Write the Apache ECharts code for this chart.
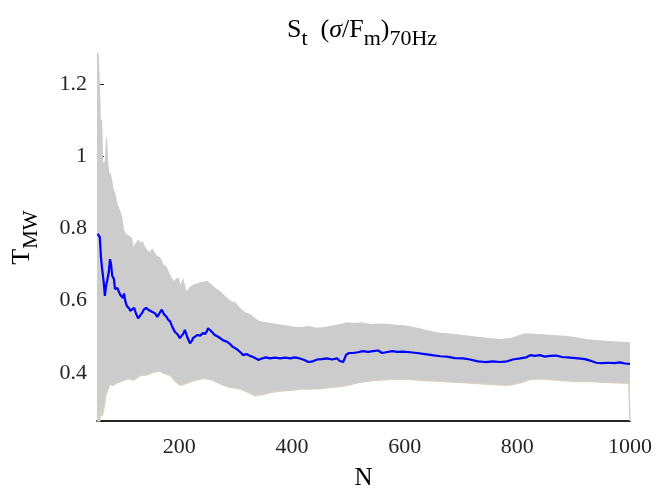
<!DOCTYPE html>
<html>
<head>
<meta charset="utf-8">
<script src="https://cdn.jsdelivr.net/npm/echarts@6/dist/echarts.min.js"></script>
<style>html,body{margin:0;padding:0;background:#fff}#c{width:657px;height:488px}</style>
</head>
<body>
<div id="c"></div>
<script>
// Mean curve (N, T_MW)
const meanN = [55,56,59,61,63,65,66,68,70,72,74,75,77,79,81,84,86,90,93,95,98,100,102,104,107,111,113,116,120,123,127,130,134,137,141,145,148,153,157,161,162,166,169,173,177,180,184,187,192,198,201,207,210,214,219,223,224,228,232,237,242,246,249,251,255,258,263,269,272,278,285,290,295,301,304,310,313,319,326,331,336,340,347,354,361,370,379,388,397,405,414,423,429,432,437,445,453,462,471,480,485,491,496,501,508,517,526,535,544,553,560,567,578,587,597,610,622,636,649,663,675,689,704,716,730,743,757,769,782,792,805,816,823,831,840,849,858,869,879,894,908,920,929,940,950,961,972,982,991,1000];
const meanV = [0.785,0.785,0.776,0.72,0.69,0.695,0.65,0.613,0.64,0.655,0.65,0.68,0.715,0.70,0.669,0.66,0.632,0.635,0.63,0.617,0.613,0.607,0.62,0.60,0.585,0.578,0.572,0.575,0.58,0.565,0.551,0.556,0.566,0.575,0.58,0.575,0.57,0.568,0.565,0.555,0.551,0.568,0.575,0.562,0.556,0.548,0.542,0.53,0.514,0.505,0.496,0.508,0.519,0.50,0.482,0.49,0.496,0.50,0.505,0.503,0.51,0.508,0.515,0.523,0.518,0.522,0.505,0.50,0.496,0.49,0.486,0.48,0.472,0.467,0.463,0.455,0.449,0.452,0.447,0.444,0.44,0.436,0.44,0.443,0.44,0.442,0.44,0.442,0.44,0.443,0.44,0.435,0.43,0.425,0.432,0.437,0.438,0.44,0.437,0.44,0.433,0.43,0.45,0.455,0.455,0.457,0.46,0.458,0.46,0.462,0.455,0.457,0.46,0.458,0.459,0.457,0.455,0.452,0.449,0.446,0.445,0.441,0.44,0.437,0.432,0.43,0.432,0.43,0.432,0.437,0.44,0.443,0.449,0.447,0.449,0.445,0.447,0.448,0.444,0.442,0.44,0.438,0.434,0.428,0.427,0.428,0.427,0.429,0.426,0.425];

// Upper bound of the grey band
const upperN = [54,57,59,61,63,65,66,68,70,72,74,76,79,84,86,91,95,99,102,106,111,116,119,123,127,131,135,139,143,148,152,156,160,166,172,178,184,190,194,199,202,207,213,220,226,238,249,255,264,273,282,291,300,309,318,327,336,344,354,362,374,389,404,416,429,444,459,474,487,499,510,524,539,554,569,584,599,614,630,644,659,674,694,714,734,754,772,789,804,814,829,844,864,884,904,924,944,964,984,1000];
const upperV = [1.283,1.283,1.21,1.10,1.10,0.985,0.98,0.99,1.05,1.05,0.98,0.955,0.95,0.905,0.90,0.865,0.85,0.83,0.795,0.785,0.78,0.775,0.75,0.76,0.77,0.76,0.765,0.75,0.74,0.735,0.745,0.735,0.725,0.72,0.70,0.693,0.67,0.655,0.66,0.665,0.645,0.662,0.627,0.64,0.645,0.651,0.655,0.648,0.636,0.625,0.612,0.60,0.595,0.578,0.567,0.562,0.55,0.543,0.54,0.539,0.535,0.532,0.528,0.527,0.53,0.525,0.527,0.532,0.536,0.54,0.538,0.54,0.535,0.537,0.536,0.533,0.532,0.528,0.522,0.517,0.512,0.51,0.507,0.503,0.499,0.496,0.494,0.497,0.505,0.51,0.508,0.507,0.505,0.503,0.499,0.493,0.49,0.488,0.486,0.485];

// Lower bound of the grey band
const lowerN = [54,59,61,63,66,68,70,72,74,77,82,89,99,109,119,131,144,154,166,174,184,194,202,214,229,244,259,273,289,309,324,334,349,362,379,399,416,434,451,469,487,504,524,544,564,584,604,624,644,664,684,704,724,744,764,784,804,824,844,864,884,904,924,944,964,984,998,1000];
const lowerV = [0.267,0.267,0.31,0.28,0.30,0.32,0.345,0.34,0.355,0.37,0.365,0.372,0.378,0.384,0.38,0.393,0.395,0.402,0.405,0.398,0.393,0.375,0.365,0.372,0.38,0.385,0.38,0.37,0.36,0.355,0.345,0.337,0.34,0.346,0.35,0.352,0.355,0.355,0.357,0.36,0.362,0.368,0.375,0.379,0.381,0.383,0.382,0.38,0.378,0.377,0.375,0.373,0.371,0.369,0.367,0.366,0.372,0.382,0.384,0.381,0.378,0.376,0.377,0.375,0.373,0.372,0.371,0.267];

const xTicks = [200, 400, 600, 800, 1000];
const yTicks = [0.4, 0.6, 0.8, 1, 1.2];

const zip = (a, b) => a.map((v, i) => [v, b[i]]);
const serif = 'Liberation Serif, Times New Roman, serif';

const chart = echarts.init(document.getElementById('c'), null, {renderer: 'canvas'});
chart.setOption({
  animation: false,
  backgroundColor: '#ffffff',
  grid: {left: 97, right: 27, top: 54, bottom: 67, outerBoundsMode: 'none', containLabel: false},
  graphic: [{
    type: 'text', x: 362, y: 34,
    style: {
      text: '{a|S}{b|t}{a|  (}{c|σ}{a|/F}{b|m}{a|)}{b|70Hz}',
      align: 'center', verticalAlign: 'middle',
      rich: {
        a: {fontFamily: serif, fontSize: 26, color: '#000', verticalAlign: 'bottom', padding: [0, 0, 7, 0]},
        c: {fontFamily: serif, fontSize: 26, color: '#000', fontStyle: 'italic', verticalAlign: 'bottom', padding: [0, 0, 7, 0]},
        b: {fontFamily: serif, fontSize: 22, color: '#000', verticalAlign: 'bottom'}
      }
    }
  }],
  xAxis: {
    type: 'value', min: 54, max: 1000,
    name: 'N', nameLocation: 'middle', nameGap: 45,
    nameTextStyle: {fontFamily: serif, fontSize: 25, color: '#000'},
    axisLine: {show: true, lineStyle: {color: '#262626', width: 1.8}},
    axisTick: {show: false},
    splitLine: {show: false},
    axisLabel: {customValues: xTicks, formatter: v => String(v), fontFamily: serif, fontSize: 22, color: '#262626', margin: 15}
  },
  yAxis: {
    type: 'value', min: 0.2667, max: 1.283,
    name: '{a|T}{b|MW}', nameLocation: 'middle', nameGap: 55, nameRotate: 90,
    nameTextStyle: {
      rich: {
        a: {fontFamily: serif, fontSize: 26, color: '#000', verticalAlign: 'bottom', padding: [0, 0, 7, 0]},
        b: {fontFamily: serif, fontSize: 21, color: '#000', verticalAlign: 'bottom'}
      }
    },
    axisLine: {show: true, lineStyle: {color: '#262626', width: 1}},
    axisTick: {show: true, inside: true, length: 7, customValues: yTicks, lineStyle: {color: '#262626'}},
    splitLine: {show: false},
    axisLabel: {customValues: yTicks, formatter: v => String(v), fontFamily: serif, fontSize: 22, color: '#262626', margin: 10, padding: [6, 0, 0, 0]}
  },
  series: [
    {
      type: 'custom', z: 2, silent: true,
      data: [[0, 0]],
      renderItem: function (params, api) {
        const pts = [];
        for (let i = 0; i < upperN.length; i++) pts.push(api.coord([upperN[i], upperV[i]]));
        for (let i = lowerN.length - 1; i >= 0; i--) pts.push(api.coord([lowerN[i], lowerV[i]]));
        return {type: 'polygon', shape: {points: pts}, style: {fill: '#cccccc', stroke: null}};
      }
    },
    {
      type: 'line', z: 3, data: zip(lowerN, lowerV), showSymbol: false, silent: true,
      lineStyle: {color: '#d6d0c4', width: 1.5}
    },
    {
      type: 'line', z: 4, data: zip(meanN, meanV), showSymbol: false, silent: true,
      lineStyle: {color: '#0000ff', width: 2.2}
    }
  ]
});
</script>
</body>
</html>
